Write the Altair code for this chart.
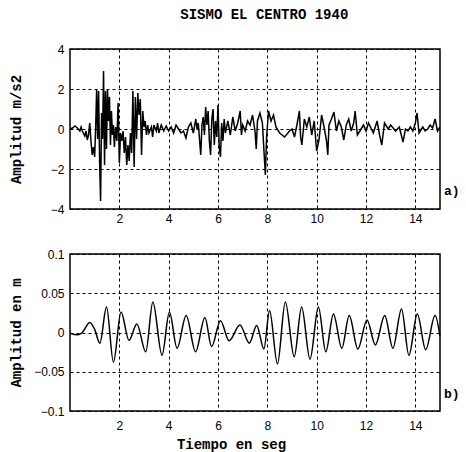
import altair as alt
import pandas as pd

# ---------------- data ----------------
title_text = "SISMO EL CENTRO 1940"
panel_labels = ["a)", "b)"]
y_titles = ["Amplitud m/s2", "Amplitud en m"]
x_title = "Tiempo en seg"

x_ticks = [2, 4, 6, 8, 10, 12, 14]
top_y_ticks = [-4, -2, 0, 2, 4]
bot_y_ticks = [-0.1, -0.05, 0, 0.05, 0.1]

top_t = [0.00, 0.10, 0.20, 0.30, 0.40, 0.45, 0.50, 0.60, 0.65, 0.70, 0.75, 0.80, 0.85, 0.90, 0.95,
         1.00, 1.05, 1.08, 1.12, 1.16, 1.20, 1.24, 1.28, 1.32, 1.36, 1.40, 1.44, 1.48, 1.52, 1.56,
         1.60, 1.64, 1.68, 1.72, 1.76, 1.80, 1.85, 1.90, 1.95, 2.00, 2.05, 2.10, 2.15, 2.20, 2.25,
         2.30, 2.35, 2.40, 2.45, 2.50, 2.55, 2.60, 2.65, 2.70, 2.75, 2.80, 2.85, 2.90, 2.95, 3.00,
         3.05, 3.10, 3.15, 3.20, 3.30, 3.35, 3.40, 3.50, 3.55, 3.60, 3.70, 3.80, 3.90, 4.00, 4.10,
         4.20, 4.30, 4.40, 4.50, 4.60, 4.70, 4.80, 4.90, 5.00, 5.10, 5.15, 5.20, 5.25, 5.30, 5.35,
         5.40, 5.45, 5.50, 5.55, 5.60, 5.65, 5.70, 5.75, 5.80, 5.85, 5.90, 5.95, 6.00, 6.05, 6.10,
         6.15, 6.20, 6.25, 6.30, 6.40, 6.50, 6.60, 6.70, 6.80, 6.90, 6.95, 7.00, 7.10, 7.20, 7.30,
         7.40, 7.50, 7.55, 7.60, 7.70, 7.80, 7.85, 7.92, 7.97, 8.05, 8.15, 8.25, 8.35, 8.50, 8.70,
         8.90, 9.00, 9.10, 9.20, 9.30, 9.35, 9.40, 9.50, 9.60, 9.70, 9.80, 9.90, 10.00, 10.10, 10.20,
         10.30, 10.40, 10.45, 10.50, 10.60, 10.70, 10.80, 10.90, 11.00, 11.10, 11.20, 11.30, 11.40,
         11.50, 11.56, 11.65, 11.80, 11.90, 12.00, 12.10, 12.30, 12.45, 12.55, 12.64, 12.75, 12.90,
         13.00, 13.20, 13.35, 13.50, 13.60, 13.70, 13.80, 13.90, 14.00, 14.07, 14.15, 14.30, 14.40,
         14.50, 14.60, 14.70, 14.80, 14.90, 15.00]
top_a = [0.0, 0.05, 0.15, 0.05, -0.10, 0.10, -0.10, -0.35, -0.10, -0.55, -0.30, 0.30, -0.60, -1.30, -0.90,
         -1.40, 0.50, 2.00, -0.50, 1.90, -1.60, -3.60, 0.80, -0.50, 2.90, -1.80, 1.90, -1.00, 2.00, 0.40,
         1.60, -0.80, 0.90, -0.30, 0.20, -0.90, 0.10, -0.60, 1.30, -1.70, -0.20, -0.60, -0.10, -1.20, -0.40,
         -1.80, -0.80, -1.60, -0.20, -1.20, 1.90, -1.90, 1.60, -0.50, 1.80, 0.70, 1.50, -1.30, 0.90, 0.10,
         0.40, -0.30, 0.20, -0.20, 0.10, -0.40, 0.20, -0.10, 0.30, -0.20, 0.20, -0.10, 0.15, -0.10, 0.10,
         -0.20, 0.20, 0.00, -0.20, -0.10, -0.45, 0.10, 0.30, -0.20, 0.50, 0.00, 0.30, -0.50, -1.30, 0.20,
         0.60, -0.30, 1.10, 0.20, 0.90, -0.60, -1.30, 0.50, 1.00, -0.80, 0.40, -0.40, 1.20, -0.90, -1.40,
         0.30, -0.60, 0.50, -0.20, 0.40, -0.30, 0.60, -0.10, 0.30, 0.90, -0.30, 0.20, -0.10, 0.40, 0.20,
         0.70, -0.10, -1.00, 0.40, 0.80, 0.30, -0.80, -2.30, -0.40, 0.90, 0.40, 0.70, 0.10, -0.20, -0.40,
         -0.10, 0.00, -0.40, 0.20, 0.90, -0.40, -0.80, 0.50, 0.10, 0.60, -0.30, 0.40, -1.10, -0.50, 0.70,
         0.10, -0.60, -1.30, 0.20, 0.50, 0.85, -0.10, 0.40, 0.10, -0.55, 0.20, 0.50, -0.10,
         0.30, 0.90, -0.30, 0.00, 0.20, -0.10, 0.30, -0.20, 0.40, -0.30, -0.80, 0.30, 0.00,
         0.20, -0.10, 0.10, -0.65, 0.00, -0.10, 0.10, -0.10, 0.30, 0.80, -0.20, 0.10, -0.10,
         0.00, 0.20, 0.05, 0.50, -0.10, 0.10]

bot_t = [0.0, 0.3, 0.5, 0.8, 1.0, 1.21, 1.48, 1.76, 2.07, 2.39, 2.71, 3.07, 3.36, 3.73, 4.03,
         4.34, 4.71, 5.09, 5.47, 5.74, 6.10, 6.45, 6.89, 7.27, 7.57, 7.86, 8.09, 8.41, 8.73, 9.09,
         9.39, 9.73, 10.07, 10.37, 10.68, 11.02, 11.32, 11.67, 12.04, 12.38, 12.76, 13.09, 13.44,
         13.74, 14.08, 14.42, 14.80, 15.00]
bot_d = [-0.001, -0.003, 0.0, 0.0128, 0.004, -0.0136, 0.0325, -0.0377, 0.026, -0.010, 0.0108,
         -0.0246, 0.039, -0.029, 0.026, -0.020, 0.0215, -0.0246, 0.019, -0.018, 0.015, -0.0105,
         0.0096, -0.0136, 0.009, -0.021, 0.028, -0.040, 0.039, -0.031, 0.0325, -0.034, 0.0325,
         -0.0246, 0.0237, -0.020, 0.0215, -0.021, 0.0158, -0.0158, 0.0215, -0.020, 0.030, -0.029,
         0.0237, -0.022, 0.0215, -0.005]

# ---------------- chart ----------------
mono = "Liberation Mono"
sans = "Liberation Sans"

df_top = pd.DataFrame({"t": top_t, "a": top_a})
df_bot = pd.DataFrame({"t": bot_t, "d": bot_d})

common_axis = dict(grid=True, gridColor="black", gridDash=[3, 3], gridWidth=1, ticks=False,
                   domain=False, labelFont=sans, labelFontSize=12, labelColor="black",
                   titleFont=mono, titleFontSize=14, titleFontWeight="bold", titleColor="black")

x_scale = alt.Scale(domain=[0, 15], nice=False, zero=False)

top_line = alt.Chart(df_top).mark_line(color="black", strokeWidth=1.5).encode(
    x=alt.X("t:Q", scale=x_scale, title=None,
            axis=alt.Axis(values=x_ticks, labelPadding=4, **common_axis)),
    y=alt.Y("a:Q", scale=alt.Scale(domain=[-4, 4], nice=False), title=y_titles[0],
            axis=alt.Axis(values=top_y_ticks, labelPadding=6, titleX=-54, titleBaseline="middle",
                          **common_axis)),
)
top_lab = alt.Chart(pd.DataFrame({"lab": [panel_labels[0]]})).mark_text(
    font=mono, fontSize=13, fontWeight="bold", align="left", color="black"
).encode(x=alt.value(374), y=alt.value(142), text="lab:N")
top = alt.layer(top_line, top_lab).properties(width=370, height=160)

bot_line = alt.Chart(df_bot).mark_line(color="black", strokeWidth=1.5, interpolate="monotone").encode(
    x=alt.X("t:Q", scale=x_scale, title=x_title,
            axis=alt.Axis(values=x_ticks, labelPadding=9, titlePadding=6, titleX=161,
                          titleAlign="center", **common_axis)),
    y=alt.Y("d:Q", scale=alt.Scale(domain=[-0.1, 0.1], nice=False), title=y_titles[1],
            axis=alt.Axis(values=bot_y_ticks, labelPadding=6, titleX=-54, titleBaseline="middle",
                          labelExpr="datum.value == 0 ? '0' : format(datum.value, '~g')",
                          **common_axis)),
)
bot_lab = alt.Chart(pd.DataFrame({"lab": [panel_labels[1]]})).mark_text(
    font=mono, fontSize=13, fontWeight="bold", align="left", color="black"
).encode(x=alt.value(374), y=alt.value(140), text="lab:N")
bot = alt.layer(bot_line, bot_lab).properties(width=370, height=157)

chart = alt.vconcat(top, bot, spacing=22).properties(
    title=alt.TitleParams(title_text, font=mono, fontSize=14, fontWeight="bold", color="black",
                          anchor="middle", dx=30, offset=20),
    padding={"left": 8, "top": 8, "right": 0, "bottom": 0},
    background="white",
).configure_view(stroke="black", strokeWidth=1.5)

chart.save("out.html", embed_options={"renderer": "svg", "actions": False})
